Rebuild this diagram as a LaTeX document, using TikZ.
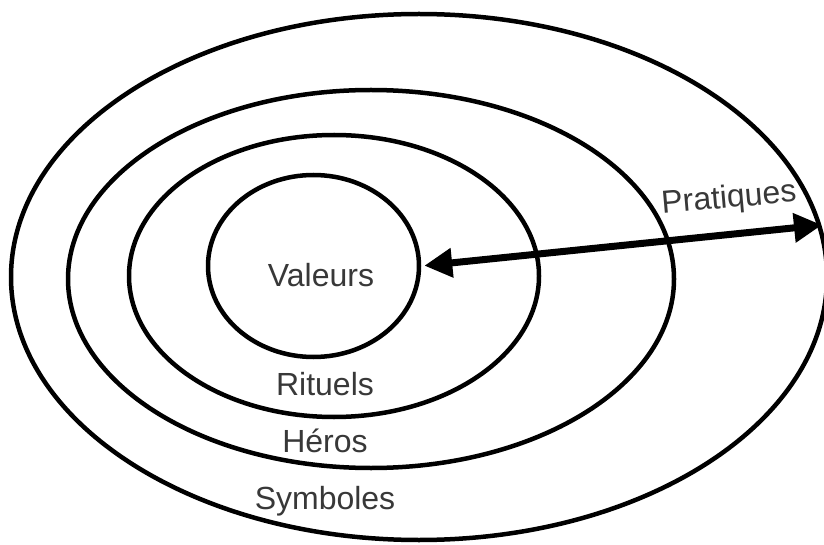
\documentclass[tikz,border=0pt]{standalone}
\usepackage{fontspec}
\setmainfont{Liberation Sans}
\usetikzlibrary{arrows.meta}
\usetikzlibrary{positioning, shapes.geometric}

\begin{document}
\begin{tikzpicture}[x=1pt,y=-1pt,node distance=57pt,
    ring/.style={ellipse,draw,line width=4.5pt,inner sep=0pt},
    word/.style={inner sep=0pt,text height=24pt,text depth=7pt,text=black!78,
                 font=\fontsize{32}{38}\selectfont}]

        \useasboundingbox[fill=white] (0,0) rectangle (824,545);

        % rings, outermost first
        \node[ring,minimum width=816pt,minimum height=526pt] (symb) at (419,277)   {};
        \node[ring,minimum width=606pt,minimum height=378pt] (hero) at (371,279)   {};
        \node[ring,minimum width=410pt,minimum height=282pt] (ritl) at (334,276)   {};
        \node[ring,minimum width=211pt,minimum height=182pt] (vals) at (313.5,266) {};

        \node[word] (valeurs)  at (321,278.5)    {Valeurs};
        \node[word] (rituels)  at (325,386.5)    {Rituels};
        \node[word] (heros)    [below of=rituels] {Héros};
        \node[word] (symboles) [below of=heros]   {Symboles};
        \node[word,rotate=5] (pratiques) at (729,199) {Pratiques};

        \coordinate (rim) at (822,225);

        \draw[{Triangle[length=28pt,width=28pt]}-{Triangle[length=28pt,width=28pt]},
              line width=7pt,shorten <=3pt] (vals.east) -- (rim);
\end{tikzpicture}
\end{document}
